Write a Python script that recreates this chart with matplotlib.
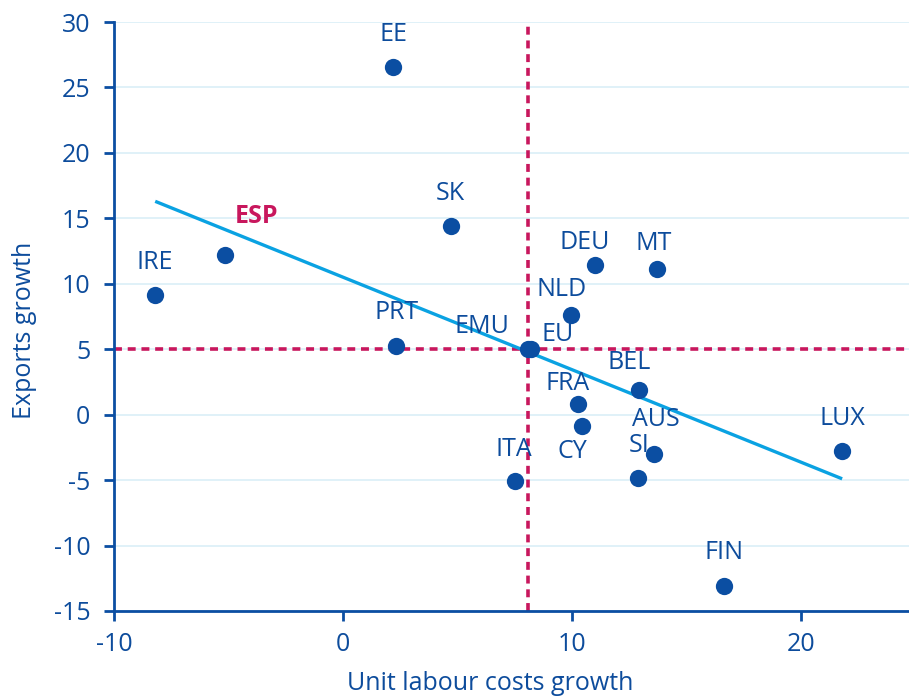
import matplotlib
matplotlib.use("Agg")
import matplotlib.pyplot as plt

# Data
countries = ["EE", "SK", "ESP", "IRE", "PRT", "EMU", "EU", "NLD", "DEU", "MT",
             "BEL", "FRA", "CY", "AUS", "SI", "ITA", "FIN", "LUX"]
ulc_growth = [2.2, 4.7, -5.15, -8.2, 2.3, 8.1, 8.2, 9.95, 11.0, 13.7,
              12.95, 10.25, 10.45, 13.6, 12.9, 7.5, 16.65, 21.8]
exports_growth = [26.6, 14.4, 12.2, 9.15, 5.25, 5.0, 5.0, 7.6, 11.4, 11.1,
                  1.9, 0.8, -0.9, -3.0, -4.85, -5.1, -13.1, -2.8]
trend_x = [-8.2, 21.8]
trend_y = [16.3, -4.9]
ref_x = 8.1
ref_y = 5.0
x_ticks = [-10, 0, 10, 20]
y_ticks = [-15, -10, -5, 0, 5, 10, 15, 20, 25, 30]

# label offsets in pixels (dx, dy up positive)
offsets = {
    "EE": (0, 32), "SK": (0, 33), "ESP": (31, 38), "IRE": (0, 32),
    "PRT": (1, 33), "EMU": (-47, 23), "EU": (27, 15), "NLD": (-9, 26),
    "DEU": (-10, 23), "MT": (-3, 26), "BEL": (-10, 27), "FRA": (-10, 21),
    "CY": (-10, -25), "AUS": (1, 34), "SI": (1, 33), "ITA": (-1, 32),
    "FIN": (0, 34), "LUX": (0, 33),
}

DARK = "#0B4EA2"
TEXT = "#0D4C9C"
CRIMSON = "#C8175D"
TREND = "#0AA2E2"
GRID = "#DDF0F8"
FS = 18

plt.rcParams['font.family'] = ['Open Sans', 'DejaVu Sans']

fig = plt.figure(figsize=(9.09, 6.99), dpi=100)
ax = fig.add_axes([0.1254, 0.1259, 0.8746, 0.8426])

ax.set_xlim(-10, 24.72)
ax.set_ylim(-15, 30)
ax.set_xticks(x_ticks)
ax.set_yticks(y_ticks)
ax.set_yticklabels([str(v) for v in y_ticks])
ax.set_xticklabels([str(v) for v in x_ticks])

for v in y_ticks:
    ax.axhline(v, color=GRID, lw=1.3, zorder=0)

ax.axvline(ref_x, color=CRIMSON, lw=2.6, ls=(0, (2.2, 1.6)), zorder=1)
ax.axhline(ref_y, color=CRIMSON, lw=2.6, ls=(0, (2.2, 1.6)), zorder=1)

ax.plot(trend_x, trend_y, color=TREND, lw=2.4, zorder=3, solid_capstyle='butt')
ax.scatter(ulc_growth, exports_growth, s=155, color=DARK, zorder=4, linewidths=0)

for name, x, y in zip(countries, ulc_growth, exports_growth):
    dx, dy = offsets[name]
    if name == "ESP":
        ax.annotate(name, (x, y), xytext=(dx, dy), textcoords='offset pixels',
                    ha='center', va='center', fontsize=FS, color=CRIMSON,
                    fontweight='bold', zorder=5)
    else:
        ax.annotate(name, (x, y), xytext=(dx, dy), textcoords='offset pixels',
                    ha='center', va='center', fontsize=FS, color=TEXT, zorder=5)

for s in ['top', 'right']:
    ax.spines[s].set_visible(False)
for s in ['left', 'bottom']:
    ax.spines[s].set_color(DARK)
    ax.spines[s].set_linewidth(2)

ax.tick_params(axis='both', colors=DARK, labelcolor=TEXT, labelsize=FS,
               width=2, length=7, direction='out')
ax.tick_params(axis='y', pad=10)
ax.tick_params(axis='x', pad=8)

ax.set_ylabel("Exports growth", fontsize=FS, color=TEXT)
ax.set_xlabel("Unit labour costs growth", fontsize=FS, color=TEXT)
ax.yaxis.set_label_coords(-0.112, 0.477)
ax.xaxis.set_label_coords(0.473, -0.144)
ax.yaxis.label.set_va('center')
ax.xaxis.label.set_va('bottom')

fig.savefig("out.png", dpi=100)
